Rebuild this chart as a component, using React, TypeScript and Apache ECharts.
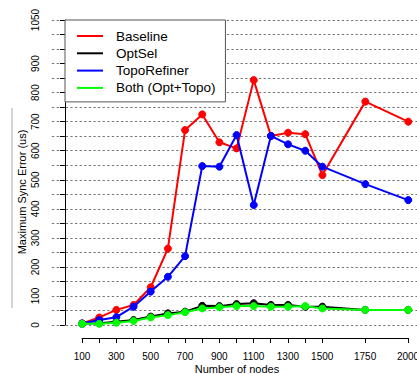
import React, { useEffect, useRef } from "react";
import * as echarts from "echarts";

const xValues = [100, 200, 300, 400, 500, 600, 700, 800, 900, 1000, 1100, 1200, 1300, 1400, 1500, 1750, 2000];
const baseline = [5, 26, 52, 69, 130, 263, 671, 725, 629, 608, 843, 651, 662, 657, 516, 769, 700];
const optSel = [5, 6, 11, 17, 29, 40, 46, 66, 65, 72, 75, 69, 69, 63, 63, 52, 52];
const topoRefiner = [5, 17, 27, 63, 115, 166, 237, 547, 545, 654, 413, 651, 622, 600, 545, 485, 430];
const both = [4, 4, 8, 14, 26, 34, 44, 57, 61, 65, 65, 63, 63, 65, 57, 52, 52];

const seriesNames = ["Baseline", "OptSel", "TopoRefiner", "Both (Opt+Topo)"];
const seriesColors = ["#ff0000", "#000000", "#0000ff", "#00ff00"];

const yTickLabels = [0, 100, 200, 300, 400, 500, 600, 700, 800, 900, 1050];
const xTicks = [100, 200, 300, 400, 500, 600, 700, 800, 900, 1000, 1100, 1200, 1300, 1400, 1500, 1750, 2000];
const xTickLabels = [100, 300, 500, 700, 900, 1100, 1300, 1500, 1750, 2000];

const FONT = "'Liberation Sans', Arial, Helvetica, sans-serif";

export default function App() {
  const ref = useRef<HTMLDivElement>(null);

  useEffect(() => {
    if (!ref.current) return;
    const chart = echarts.init(ref.current, null, { renderer: "svg" });
    const allData = [baseline, optSel, topoRefiner, both];

    const series = allData.map((vals, i) => ({
      name: seriesNames[i],
      type: "line",
      xAxisIndex: 0,
      yAxisIndex: 0,
      data: xValues.map((x, j) => [x, vals[j]]),
      symbol: "circle",
      symbolSize: 7,
      lineStyle: { color: seriesColors[i], width: 2 },
      itemStyle: { color: seriesColors[i], borderColor: seriesColors[i], borderWidth: 1 },
      emphasis: { disabled: true },
      z: 2 + i,
    }));

    chart.setOption({
      animation: false,
      textStyle: { fontFamily: FONT },
      grid: [
        { left: 52, top: 20, width: 370, height: 305, outerBoundsMode: "none", containLabel: false },
        { left: 82, top: 337, width: 326, height: 1, outerBoundsMode: "none", containLabel: false },
      ],
      xAxis: [
        {
          type: "value",
          gridIndex: 0,
          min: -75,
          max: 2080,
          show: false,
          splitLine: { show: false },
        },
        {
          type: "value",
          gridIndex: 1,
          min: 100,
          max: 2000,
          position: "bottom",
          axisLine: { show: true, lineStyle: { color: "#000", width: 1 } },
          axisTick: { show: true, inside: false, length: 5, customValues: xTicks, lineStyle: { color: "#000" } },
          axisLabel: {
            show: true,
            customValues: xTickLabels,
            formatter: (v: number) => String(v),
            margin: 13,
            fontSize: 10,
            color: "#000",
            fontFamily: FONT,
          },
          splitLine: { show: false },
        },
      ],
      yAxis: [
        {
          type: "value",
          gridIndex: 0,
          min: 0,
          max: 1050,
          interval: 50,
          axisLine: { show: true, lineStyle: { color: "#000", width: 1 } },
          axisTick: { show: true, inside: false, length: 5, lineStyle: { color: "#000" } },
          axisLabel: {
            show: true,
            customValues: yTickLabels,
            formatter: (v: number) => String(v),
            rotate: 90,
            margin: 12,
            fontSize: 10,
            color: "#000",
            fontFamily: FONT,
          },
          splitLine: { show: true, lineStyle: { color: "#777", width: 1, type: [2.3, 2.3] } },
        },
        { type: "value", gridIndex: 1, min: 0, max: 1, show: false, splitLine: { show: false } },
      ],
      legend: {
        show: true,
        orient: "vertical",
        left: 65,
        top: 20,
        data: seriesNames,
        selectedMode: false,
        backgroundColor: "#fff",
        borderColor: "#555",
        borderWidth: 1,
        padding: [9, 10, 7, 12],
        itemWidth: 34,
        itemHeight: 14,
        itemGap: 3.3,
        icon: "path://M0,0 M34,14 M0,6 L26,6 L26,8 L0,8 Z",
        itemStyle: { borderWidth: 0 },
        textStyle: { fontSize: 13.5, color: "#000", fontFamily: FONT },
        z: 10,
      },
      graphic: [
        {
          type: "line",
          shape: { x1: 12, y1: 108, x2: 12, y2: 308 },
          style: { stroke: "#aaa", lineWidth: 1 },
        },
        {
          type: "text",
          x: 22,
          y: 192,
          rotation: Math.PI / 2,
          style: {
            text: "Maximum Sync Error (us)",
            fontSize: 11,
            fontFamily: FONT,
            fill: "#000",
            align: "center",
            verticalAlign: "middle",
            textAlign: "center",
            textVerticalAlign: "middle",
          },
        },
        {
          type: "text",
          x: 237,
          y: 369,
          style: {
            text: "Number of nodes",
            fontSize: 11,
            fontFamily: FONT,
            fill: "#000",
            align: "center",
            verticalAlign: "middle",
            textAlign: "center",
            textVerticalAlign: "middle",
          },
        },
      ],
      series,
    });

    return () => {
      chart.dispose();
    };
  }, []);

  return (
    <div style={{ position: "fixed", left: 0, top: 0, width: 417, height: 374, overflow: "hidden", background: "#fff" }}>
      <div ref={ref} style={{ width: 430, height: 374 }} />
    </div>
  );
}
